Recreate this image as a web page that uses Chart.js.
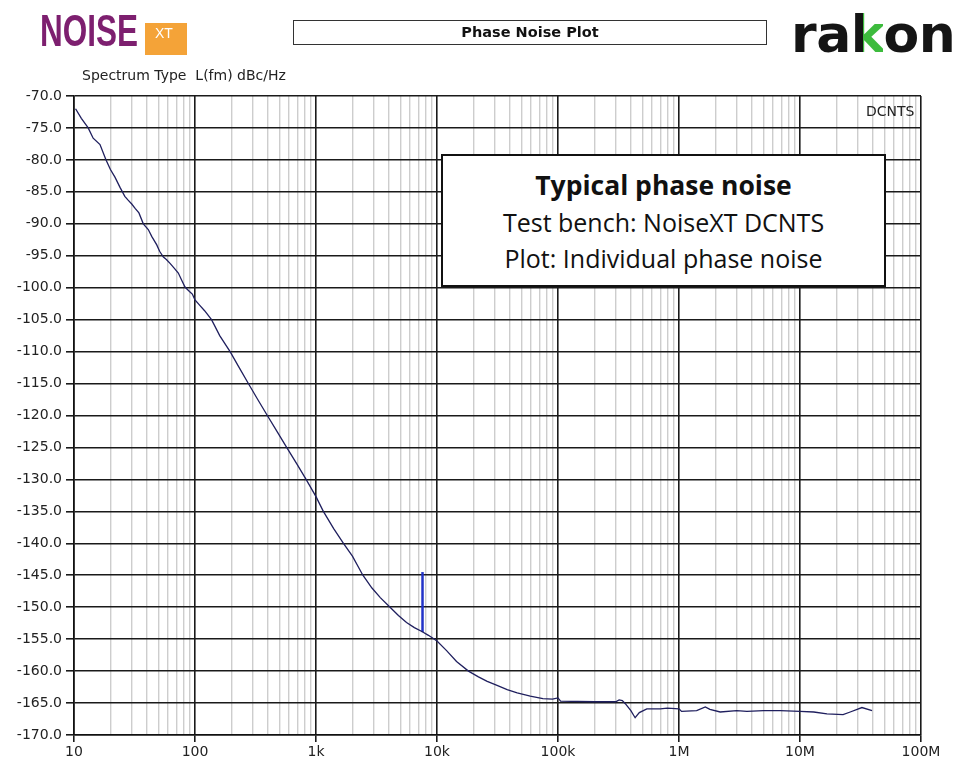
<!DOCTYPE html>
<html>
<head>
<meta charset="utf-8">
<script src="https://cdn.jsdelivr.net/npm/chart.js@4.4.1/dist/chart.umd.min.js"></script>
<style>
  html,body{margin:0;padding:0;background:#fff;}
  #wrap{position:relative;width:958px;height:763px;overflow:hidden;}
  #c{position:absolute;left:0;top:0;}
  .ov{position:absolute;white-space:nowrap;}
  #noise{left:40px;top:5px;font-family:"Liberation Sans",sans-serif;font-weight:bold;font-size:45px;line-height:52px;color:#7d1f6f;transform-origin:left top;transform:scaleX(0.7);}
  #xtbox{left:145px;top:23px;width:42px;height:32px;background:#f4a338;}
  #xt{left:155px;top:25px;font-family:"Liberation Sans",sans-serif;font-size:14px;color:#fff;}
  #titlebox{left:293px;top:20px;width:474px;height:25px;border:1.5px solid #333;box-sizing:border-box;background:#fff;}
  #title{left:293px;top:20px;width:474px;height:25px;line-height:25px;text-align:center;font-family:"DejaVu Sans",sans-serif;font-weight:bold;font-size:14.5px;color:#111;}
  #rakon{left:791px;top:4px;font-family:"DejaVu Sans",sans-serif;font-weight:bold;font-size:52px;color:#151515;letter-spacing:-0.5px;}
  #rakon .k{background:linear-gradient(90deg,#151515 0%,#151515 36%,#3dbb3d 36%,#3dbb3d 100%);-webkit-background-clip:text;background-clip:text;color:transparent;}
  #spec{left:82px;top:67px;font-family:"DejaVu Sans",sans-serif;font-size:14px;color:#222;}
  #dcnts{left:866px;top:103px;font-family:"DejaVu Sans",sans-serif;font-size:14px;color:#222;}
  #anno{left:441px;top:154px;width:445px;height:133px;border:2px solid #111;box-sizing:border-box;background:#fff;}
  .al{left:441px;width:445px;text-align:center;font-family:"Open Sans","Noto Sans",sans-serif;color:#111;}
  #a1{top:167px;font-weight:bold;font-size:26.5px;}
  #a2{top:205px;font-size:25px;}
  #a3{top:241px;font-size:25px;}
</style>
</head>
<body>
<div id="wrap">
  <canvas id="c" width="958" height="763"></canvas>
  <div class="ov" id="noise">NOISE</div>
  <div class="ov" id="xtbox"></div>
  <div class="ov" id="xt">XT</div>
  <div class="ov" id="titlebox"></div>
  <div class="ov" id="title">Phase Noise Plot</div>
  <div class="ov" id="rakon">ra<span class="k">k</span>on</div>
  <div class="ov" id="spec">Spectrum Type&nbsp; L(fm) dBc/Hz</div>
  <div class="ov" id="dcnts">DCNTS</div>
  <div class="ov" id="anno"></div>
  <div class="ov al" id="a1">Typical phase noise</div>
  <div class="ov al" id="a2">Test bench: NoiseXT DCNTS</div>
  <div class="ov al" id="a3">Plot: Individual phase noise</div>
</div>
<script>
// ---- data ----
const offsetFreqHz = [10.3, 11.5, 13.1, 14.4, 16.4, 18.4, 20, 21.8, 24, 26.3, 28, 30, 32, 34.4, 37.4, 41.1, 44, 48.3, 51, 54.8, 58, 62.2, 67, 72.8, 78, 82.7, 90, 95, 100, 110, 120, 137, 160, 195, 230, 276, 330, 396, 480, 572, 700, 828, 1000, 1150, 1400, 1686, 2000, 2440, 2900, 3400, 4093, 4800, 5600, 6500, 7500, 8500, 10000, 12000, 14500, 18200, 22000, 26000, 31000, 38000, 46000, 59000, 75000, 90000, 100000, 105000, 200000, 300000, 320000, 340000, 360000, 400000, 434000, 470000, 542000, 700000, 800000, 1000000, 1050000, 1400000, 1650000, 1800000, 2190000, 3000000, 3640000, 5000000, 6870000, 10000000, 13000000, 16700000, 22700000, 26000000, 32500000, 39400000];
const phaseNoiseDbc = [-72.0, -73.5, -75.0, -76.6, -77.6, -80.0, -81.5, -82.7, -84.3, -85.7, -86.3, -86.9, -87.6, -88.3, -90.0, -90.9, -92.0, -93.3, -94.3, -95.2, -95.6, -96.2, -96.9, -97.7, -98.9, -99.9, -100.6, -101.0, -101.9, -102.8, -103.6, -105.0, -107.5, -110.0, -112.4, -115.0, -117.5, -120.0, -122.6, -125.0, -127.7, -130.0, -132.7, -135.0, -137.7, -140.0, -142.0, -145.0, -147.0, -148.5, -150.0, -151.3, -152.4, -153.2, -153.8, -154.4, -155.3, -156.8, -158.5, -160.0, -160.9, -161.6, -162.2, -162.9, -163.4, -163.9, -164.3, -164.4, -164.2, -164.7, -164.8, -164.8, -164.5, -164.6, -165.1, -166.2, -167.3, -166.5, -165.9, -165.9, -165.8, -165.9, -166.3, -166.2, -165.6, -166.0, -166.4, -166.2, -166.3, -166.2, -166.2, -166.3, -166.4, -166.7, -166.8, -166.4, -165.7, -166.2];
const spurFreqHz = [7590, 7590];
const spurDbc = [-153.9, -144.5];
const decadeLabels = {1e1:'10', 1e2:'100', 1e3:'1k', 1e4:'10k', 1e5:'100k', 1e6:'1M', 1e7:'10M', 1e8:'100M'};
const yMin = -170, yMax = -70, yStep = 5;

const isDecade = v => v != null && Math.abs(Math.log10(v) - Math.round(Math.log10(v))) < 1e-9;

const mainPts = offsetFreqHz.map((f,i)=>({x:f, y:phaseNoiseDbc[i]}));
const spurPts = spurFreqHz.map((f,i)=>({x:f, y:spurDbc[i]}));

new Chart(document.getElementById('c'), {
  type: 'line',
  data: {
    datasets: [
      {data: mainPts, borderColor:'#1f1f5e', borderWidth:1.3, pointRadius:0, tension:0, fill:false},
      {data: spurPts, borderColor:'#2233c8', borderWidth:2.5, pointRadius:0, tension:0, fill:false}
    ]
  },
  options: {
    responsive:false, animation:false,
    layout:{padding:{left:0, top:96, right:37, bottom:0}},
    plugins:{legend:{display:false}, tooltip:{enabled:false}},
    scales:{
      x:{
        type:'logarithmic', min:10, max:1e8,
        afterBuildTicks(scale){
          const t=[];
          for(let d=1; d<=8; d++){
            for(let k=1;k<=9;k++){
              const v=k*Math.pow(10,d);
              if(v>=10 && v<=1e8) t.push({value:v});
              if(d===8) break;
            }
          }
          scale.ticks=t;
        },
        afterFit(scale){ scale.height = 28; },
        ticks:{
          autoSkip:false, maxRotation:0, minRotation:0, padding:2,
          color:'#222', font:{family:'DejaVu Sans', size:14},
          callback:(v)=>{ for(const k in decadeLabels){ if(Math.abs(+k - v) < 1e-6*(+k)) return decadeLabels[k]; } return ''; }
        },
        grid:{
          color:(ctx)=> isDecade(ctx.tick && ctx.tick.value) ? '#1a1a1a' : '#cdcdcd',
          lineWidth:(ctx)=> isDecade(ctx.tick && ctx.tick.value) ? 1.6 : 1.4,
          tickColor:(ctx)=> isDecade(ctx.tick && ctx.tick.value) ? '#1a1a1a' : 'rgba(0,0,0,0)',
          tickLength:7, drawTicks:true
        },
        border:{color:'#111', width:1.6}
      },
      y:{
        type:'linear', min:yMin, max:yMax,
        afterFit(scale){ scale.width = 74; },
        ticks:{
          stepSize:yStep, padding:4, color:'#222',
          font:{family:'DejaVu Sans', size:14},
          callback:(v)=> Number(v).toFixed(1)
        },
        grid:{color:'#1a1a1a', lineWidth:1.6, tickColor:'#1a1a1a', tickLength:8},
        border:{color:'#111', width:1.6}
      }
    }
  }
});
</script>
</body>
</html>
